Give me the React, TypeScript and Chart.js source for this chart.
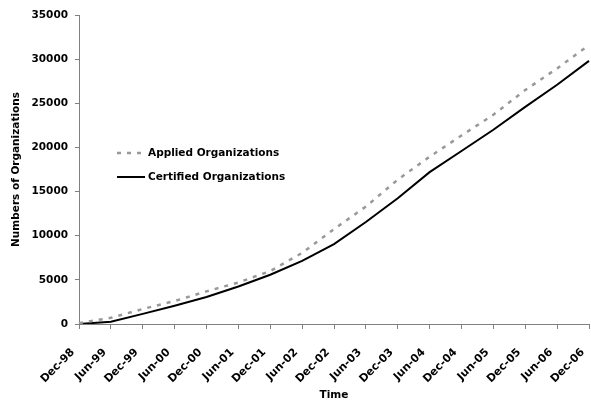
import React, { useEffect, useRef } from "react";
import { Chart, registerables } from "chart.js";

Chart.register(...registerables);

const categories = [
  "Dec-98", "Jun-99", "Dec-99", "Jun-00", "Dec-00", "Jun-01", "Dec-01", "Jun-02", "Dec-02",
  "Jun-03", "Dec-03", "Jun-04", "Dec-04", "Jun-05", "Dec-05", "Jun-06", "Dec-06",
];
const appliedValues = [
  100, 700, 1700, 2600, 3700, 4700, 6000, 8050, 10750,
  13300, 16350, 18950, 21350, 23700, 26500, 28950, 31600,
];
const certifiedValues = [
  0, 250, 1150, 2070, 3050, 4250, 5580, 7150, 9050,
  11550, 14250, 17200, 19600, 22000, 24600, 27100, 29800,
];
const seriesNames = ["Applied Organizations", "Certified Organizations"];
const yTitle = "Numbers of Organizations";
const xTitle = "Time";

const FONT = "'DejaVu Sans', sans-serif";

const legendPlugin = {
  id: "insideLegend",
  afterDatasetsDraw(chart: any) {
    const ctx = chart.ctx;
    ctx.save();
    const items = chart.data.datasets;
    const x0 = 117;
    const ys = [153, 177];
    items.forEach((ds: any, i: number) => {
      const y = ys[i];
      ctx.beginPath();
      ctx.strokeStyle = ds.borderColor;
      ctx.lineWidth = ds.borderWidth;
      ctx.setLineDash(ds.borderDash || []);
      ctx.moveTo(x0, y);
      ctx.lineTo(x0 + 28, y);
      ctx.stroke();
      ctx.setLineDash([]);
      ctx.fillStyle = "#000";
      ctx.font = `bold 10.5px ${FONT}`;
      ctx.textAlign = "left";
      ctx.textBaseline = "middle";
      ctx.fillText(ds.label, x0 + 31, y);
    });
    ctx.restore();
  },
};

export default function App() {
  const ref = useRef<HTMLCanvasElement>(null);
  useEffect(() => {
    document.body.style.margin = "0";
    const chart = new Chart(ref.current!, {
      type: "line",
      data: {
        labels: categories,
        datasets: [
          {
            label: seriesNames[0],
            data: appliedValues,
            borderColor: "#999999",
            borderWidth: 2.5,
            borderDash: [4, 6],
            pointRadius: 0,
            tension: 0,
            fill: false,
          },
          {
            label: seriesNames[1],
            data: certifiedValues,
            borderColor: "#000000",
            borderWidth: 2,
            pointRadius: 0,
            tension: 0,
            fill: false,
          },
        ],
      },
      options: {
        animation: false,
        responsive: false,
        devicePixelRatio: 1,
        layout: { padding: { top: 15, right: 2, left: 0, bottom: 0 } },
        plugins: { legend: { display: false }, tooltip: { enabled: false } },
        scales: {
          x: {
            offset: false,
            grid: { drawOnChartArea: false, drawTicks: true, tickLength: 5, color: "#808080" },
            border: { color: "#808080", width: 1 },
            ticks: {
              autoSkip: false,
              minRotation: 45,
              maxRotation: 45,
              padding: 17,
              labelOffset: -6,
              color: "#000",
              font: { family: FONT, size: 11, weight: "bold" },
            },
            title: {
              display: true,
              text: xTitle,
              color: "#000",
              font: { family: FONT, size: 10.5, weight: "bold" },
              padding: { top: 0, bottom: 2 },
            },
            afterFit(scale: any) {
              scale.height = 80;
              scale.paddingRight = 0;
              scale.paddingLeft = 0;
            },
          },
          y: {
            min: 0,
            max: 35000,
            grid: { drawOnChartArea: false, drawTicks: true, tickLength: 4, color: "#808080" },
            border: { color: "#808080", width: 1 },
            ticks: {
              stepSize: 5000,
              padding: 7,
              color: "#000",
              font: { family: FONT, size: 10.5, weight: "bold" },
              callback: (v: any) => String(v),
            },
            title: {
              display: true,
              text: yTitle,
              color: "#000",
              font: { family: FONT, size: 10.5, weight: "bold" },
              padding: { top: 10, bottom: 0 },
            },
            afterFit(scale: any) {
              scale.width = 79;
            },
          },
        },
      },
      plugins: [legendPlugin],
    });
    return () => chart.destroy();
  }, []);
  return (
    <div style={{ position: "fixed", left: 0, top: 0, width: 591, height: 404, background: "#fff" }}>
      <canvas ref={ref} width={591} height={404} style={{ width: 591, height: 404 }} />
    </div>
  );
}
